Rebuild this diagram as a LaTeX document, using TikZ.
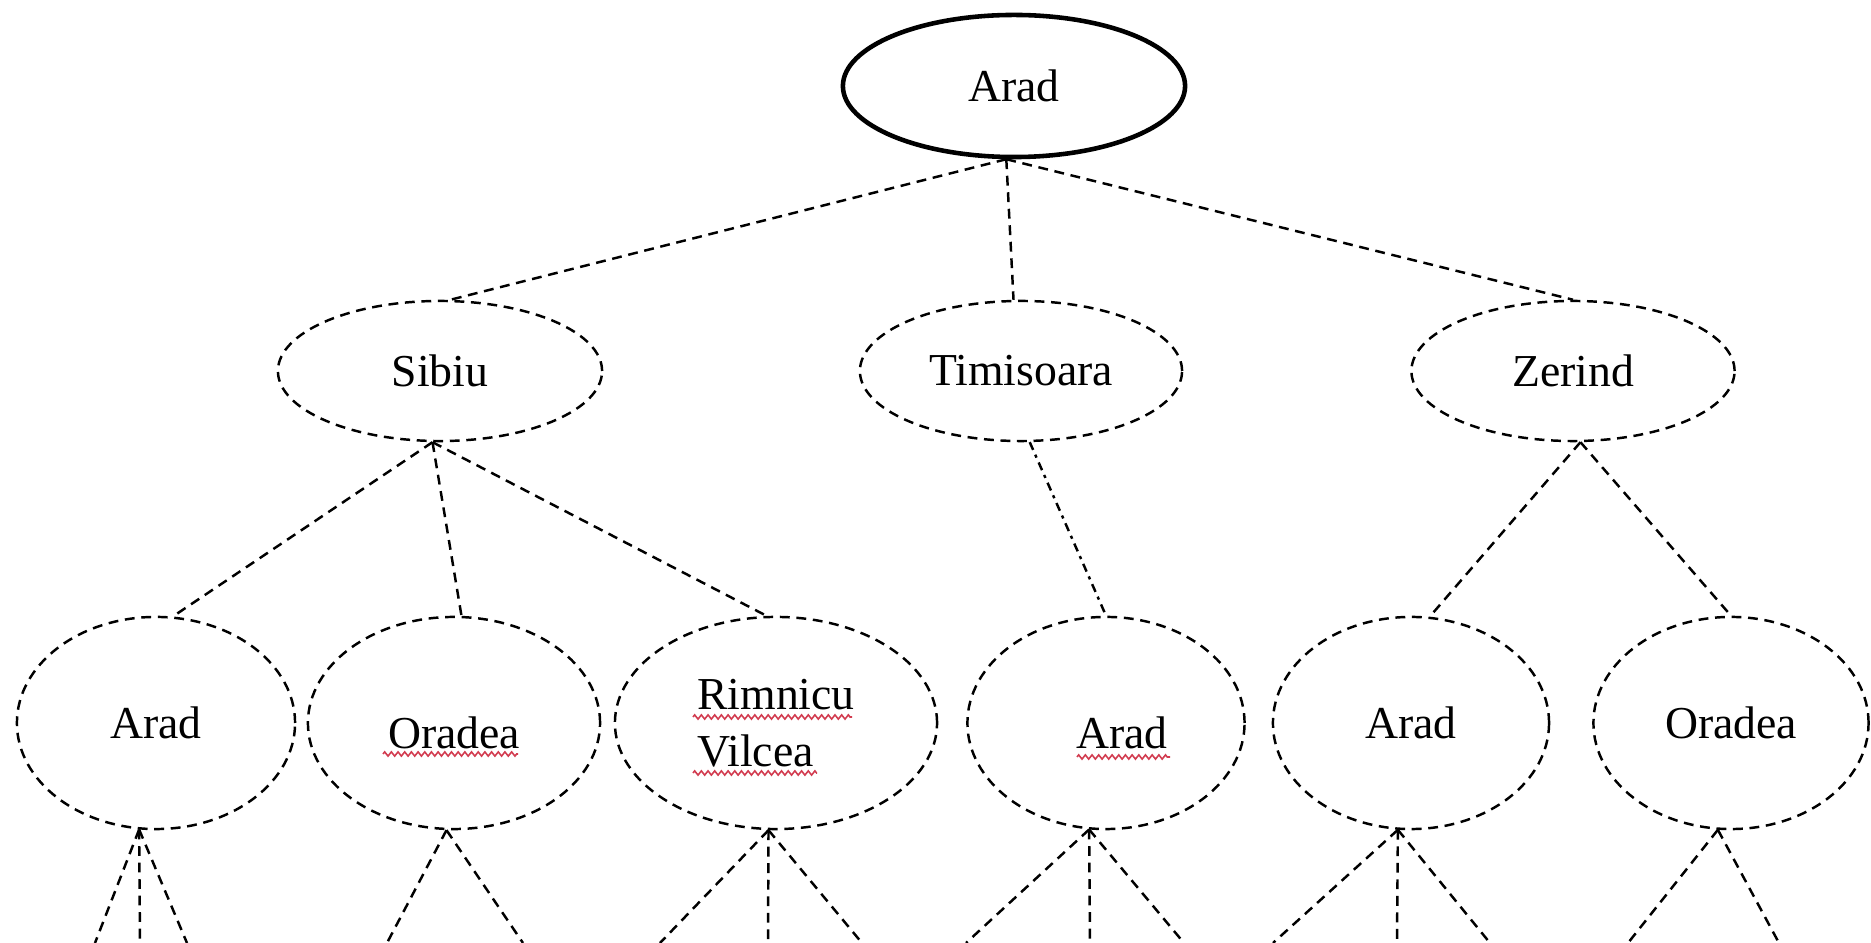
\documentclass[tikz,border=0pt]{standalone}
\usepackage{fontspec}
\setmainfont{Liberation Serif}
\usepackage{xcolor}
\usetikzlibrary{shapes.geometric}
\usetikzlibrary{decorations.pathmorphing}
\definecolor{spellred}{RGB}{210,60,80}

\begin{document}
\begin{tikzpicture}[x=0.01cm, y=-0.01cm,
    every node/.style={font=\fontsize{13}{16.2}\selectfont},
    city/.style={ellipse, draw, line width=0.7pt, dash pattern=on 2.8pt off 1.9pt, inner sep=0pt, minimum height=1.40cm},
    deep/.style={city, minimum height=2.12cm},
    link/.style={line width=0.7pt, dash pattern=on 2.8pt off 1.9pt},
    dotlink/.style={line width=0.7pt, dash pattern=on 2.4pt off 1.5pt on 0.9pt off 1.5pt},
    spell/.style={spellred, line width=0.45pt, decorate, decoration={zigzag, amplitude=0.6pt, segment length=1.9pt}}]
\useasboundingbox (0,0) rectangle (1871,943);

% start state
\node[ellipse, draw, line width=1.3pt, minimum width=3.42cm, minimum height=1.42cm] (arad) at (1014,86) {Arad};

% first expansion
\node[city, minimum width=3.24cm] (sibiu) at (440,371) {Sibiu};
\node[city, minimum width=3.22cm] (timisoara) at (1021,371) {Timisoara};
\node[city, minimum width=3.23cm] (zerind) at (1573,371) {Zerind};

% second expansion
\node[deep, minimum width=2.78cm] (sibiu-arad) at (156,723) {Arad};
\node[deep, minimum width=2.92cm] (sibiu-oradea) at (454,723) {\raisebox{-1mm}[\height][\depth]{Oradea}};
\node[deep, minimum width=3.22cm, align=left] (rimnicu) at (776,723) {Rimnicu\\Vilcea};
\node[deep, minimum width=2.77cm] (timisoara-arad) at (1106,723) {\hspace*{3.2mm}\raisebox{-1mm}[\height][\depth]{Arad}};
\node[deep, minimum width=2.76cm] (zerind-arad) at (1411,723) {Arad};
\node[deep, minimum width=2.75cm] (zerind-oradea) at (1731,723) {Oradea};

% spell-check marks under the words
\draw[spell] ([shift={(-71,31)}]sibiu-oradea.center) -- ++(135,0);
\draw[spell] ([shift={(-83,-6)}]rimnicu.center) -- ++(159,0);
\draw[spell] ([shift={(-83,50)}]rimnicu.center) -- ++(124,0);
\draw[spell] ([shift={(-29,34)}]timisoara-arad.center) -- ++(93,0);

\draw[link] (arad.-96) -- (sibiu.82);
\draw[link] (arad.-96) -- (timisoara.96);
\draw[link] (arad.-96) -- (zerind.north);

\draw[link] (sibiu.-96) -- (sibiu-arad.81);
\draw[link] (sibiu.-96) -- (sibiu-oradea.86);
\draw[link] (sibiu.-96) -- (rimnicu.95);
\draw[dotlink] (timisoara.-83) -- (timisoara-arad.north);
\draw[link] (zerind.-84) -- (zerind-arad.80);
\draw[link] (zerind.-84) -- (zerind-oradea.north);

% branches cut off by the page edge
\coordinate (cut1) at (95,943);
\coordinate (cut2) at (140,943);
\coordinate (cut3) at (187,943);
\coordinate (cut4) at (387,943);
\coordinate (cut5) at (523,943);
\coordinate (cut6) at (660,943);
\coordinate (cut7) at (768,943);
\coordinate (cut8) at (862,943);
\coordinate (cut9) at (966,943);
\coordinate (cut10) at (1090,943);
\coordinate (cut11) at (1184,943);
\coordinate (cut12) at (1273,943);
\coordinate (cut13) at (1397,943);
\coordinate (cut14) at (1490,943);
\coordinate (cut15) at (1628,943);
\coordinate (cut16) at (1779,943);

\draw[link] (sibiu-arad.-99) -- (cut1);
\draw[link] (sibiu-arad.-99) -- (cut2);
\draw[link] (sibiu-arad.-99) -- (cut3);
\draw[link] (sibiu-oradea.-94) -- (cut4);
\draw[link] (sibiu-oradea.-94) -- (cut5);
\draw[link] (rimnicu.-94) -- (cut6);
\draw[link] (rimnicu.-94) -- (cut7);
\draw[link] (rimnicu.-94) -- (cut8);
\draw[link] (timisoara-arad.-99) -- (cut9);
\draw[link] (timisoara-arad.-99) -- (cut10);
\draw[link] (timisoara-arad.-99) -- (cut11);
\draw[link] (zerind-arad.-97) -- (cut12);
\draw[link] (zerind-arad.-97) -- (cut13);
\draw[link] (zerind-arad.-97) -- (cut14);
\draw[link] (zerind-oradea.-97) -- (cut15);
\draw[link] (zerind-oradea.-97) -- (cut16);
\end{tikzpicture}
\end{document}
